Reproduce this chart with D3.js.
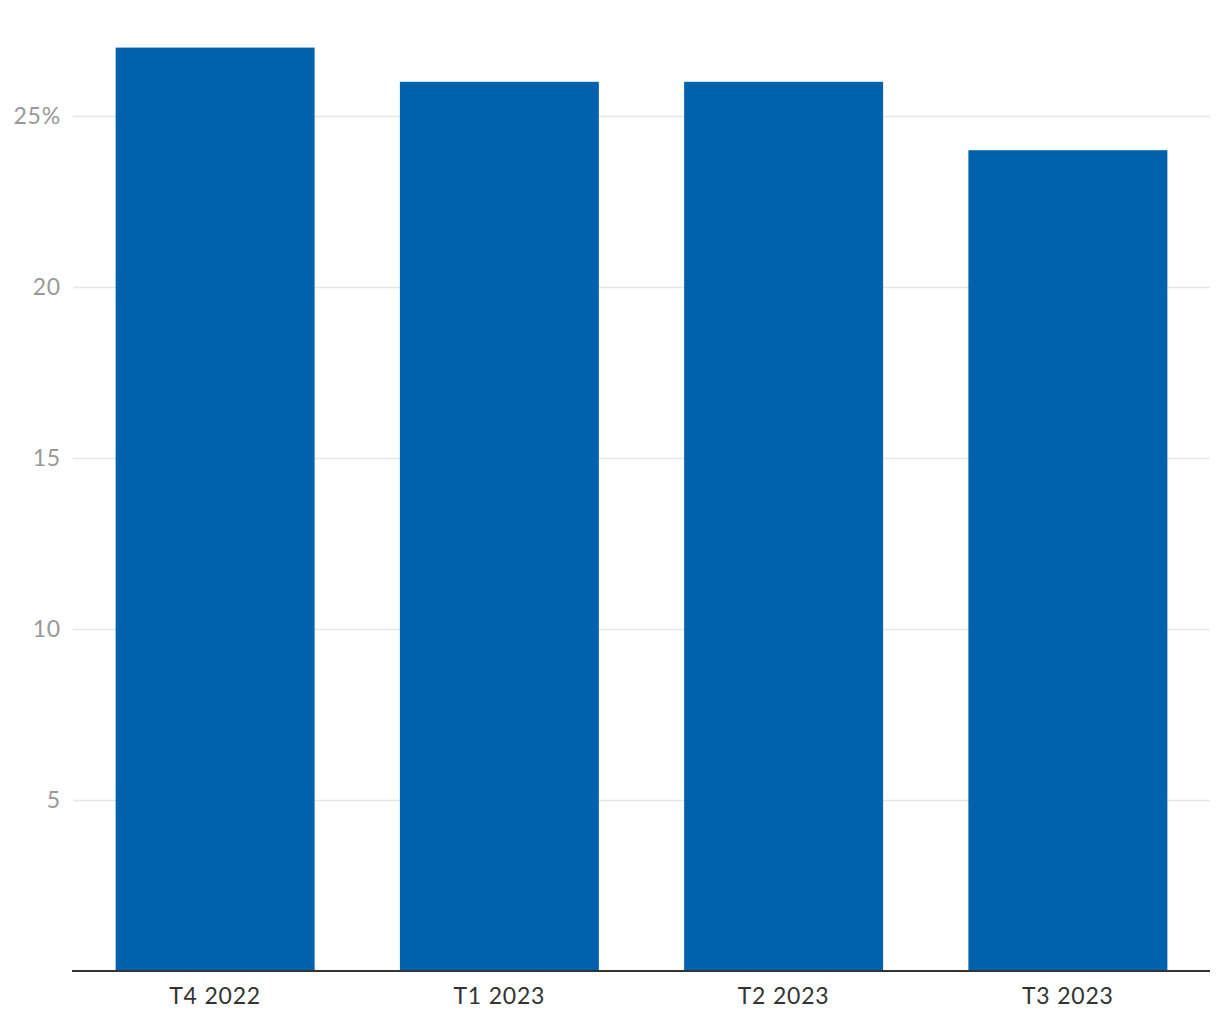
<!DOCTYPE html>
<html>
<head>
<meta charset="utf-8">
<script src="https://cdn.jsdelivr.net/npm/d3@7"></script>
<style>
  body { margin: 0; background: #fff; }
  svg text { font-family: Lato, "Open Sans", sans-serif; letter-spacing: 0.8px; }
</style>
</head>
<body>
<svg id="chart" width="1220" height="1020"></svg>
<script>
var quarters = ["T4 2022", "T1 2023", "T2 2023", "T3 2023"],
    shares = [27, 26, 26, 24],
    yTicks = [5, 10, 15, 20, 25];

var svg = d3.select("#chart"),
    plotLeft = 73, plotRight = 1210,
    plotBottom = 971, plotTop = 47.6;

var x = d3.scaleBand()
    .domain(quarters)
    .range([plotLeft, plotRight])
    .paddingInner(0.3)
    .paddingOuter(0.15);

var y = d3.scaleLinear()
    .domain([0, 27])
    .range([plotBottom, plotTop]);

// gridlines + y labels
var grid = svg.append("g")
    .attr("transform", "translate(" + plotLeft + ",0)")
    .call(d3.axisLeft(y)
      .tickValues(yTicks)
      .tickSize(-(plotRight - plotLeft))
      .tickPadding(12)
      .tickFormat(function (d) { return d === 25 ? d + "%" : d; }));

grid.select(".domain").remove();
grid.selectAll(".tick line")
    .attr("stroke", "#e6e6e6")
    .attr("stroke-width", 1.5);
grid.selectAll(".tick text")
    .attr("fill", "#999")
    .attr("font-size", 23);

svg.selectAll("rect.bar").data(shares).enter()
   .append("rect")
   .attr("class", "bar")
   .attr("x", function (d, i) { return x(quarters[i]); })
   .attr("width", x.bandwidth())
   .attr("y", function (d) { return y(d); })
   .attr("height", function (d) { return plotBottom - y(d); })
   .attr("fill", "#0062ad");

var xAxis = svg.append("g")
    .attr("transform", "translate(0," + plotBottom + ")")
    .call(d3.axisBottom(x).tickSize(0).tickPadding(17).tickSizeOuter(0));

xAxis.select(".domain")
    .attr("stroke", "#333")
    .attr("stroke-width", 2)
    .attr("d", "M" + (plotLeft - 1) + ",0H" + plotRight);
xAxis.selectAll(".tick text")
    .attr("fill", "#333")
    .attr("font-size", 23);
</script>
</body>
</html>
